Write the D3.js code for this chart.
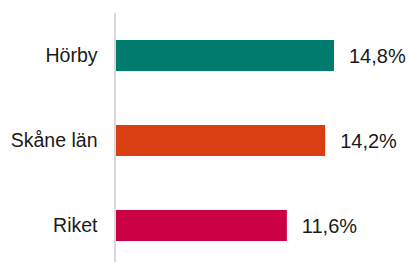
<!DOCTYPE html>
<html>
<head>
<meta charset="utf-8">
<script src="https://cdn.jsdelivr.net/npm/d3@7"></script>
<style>
  html, body { margin: 0; padding: 0; background: #fff; }
  svg { display: block; }
  text { font-family: "Liberation Sans", Arial, sans-serif; fill: #1a1a1a; }
</style>
</head>
<body>
<svg id="chart" width="408" height="262"></svg>
<script>
const categories = ["Hörby", "Skåne län", "Riket"];
const values = [14.8, 14.2, 11.6];
const valueLabels = ["14,8%", "14,2%", "11,6%"];
const colors = ["#007C6E", "#D93F12", "#CC0044"];

const svg = d3.select("#chart");
const x0 = 116;

const x = d3.scaleLinear().domain([0, 14.8]).range([x0, 334]);
const y = d3.scaleBand().domain(categories).range([13, 268])
  .paddingInner(0.635).paddingOuter(0.3175);

// axis line
svg.append("line")
  .attr("x1", 115).attr("x2", 115)
  .attr("y1", 13).attr("y2", 262)
  .attr("stroke", "#d9d9d9").attr("stroke-width", 2);

const data = categories.map((c, i) => ({ c, v: values[i], label: valueLabels[i], color: colors[i] }));

svg.selectAll("rect.bar").data(data).enter().append("rect")
  .attr("class", "bar")
  .attr("x", x(0))
  .attr("y", d => y(d.c))
  .attr("width", d => x(d.v) - x(0))
  .attr("height", y.bandwidth())
  .attr("fill", d => d.color);

svg.selectAll("text.cat").data(data).enter().append("text")
  .attr("class", "cat")
  .attr("x", 97.5)
  .attr("y", d => y(d.c) + y.bandwidth() / 2)
  .attr("dy", "0.35em")
  .attr("text-anchor", "end")
  .attr("font-size", 19.5)
  .text(d => d.c);

svg.selectAll("text.val").data(data).enter().append("text")
  .attr("class", "val")
  .attr("x", d => x(d.v) + 15)
  .attr("y", d => y(d.c) + y.bandwidth() / 2)
  .attr("dy", "0.35em")
  .attr("font-size", 20)
  .text(d => d.label);
</script>
</body>
</html>
